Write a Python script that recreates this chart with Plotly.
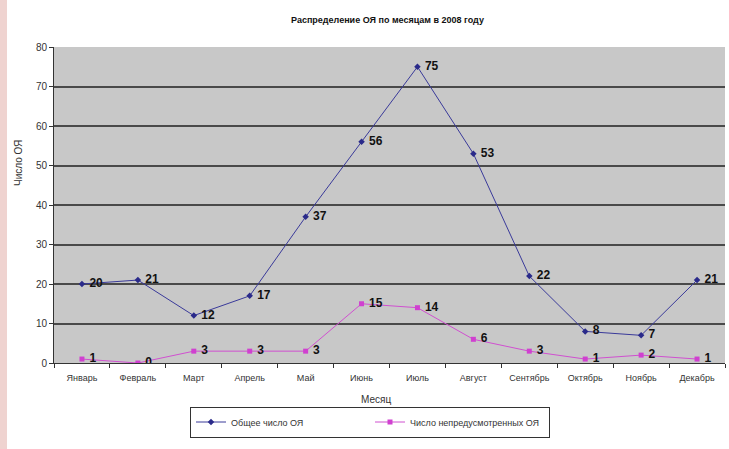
import plotly.graph_objects as go

months = ["Январь", "Февраль", "Март", "Апрель", "Май", "Июнь",
          "Июль", "Август", "Сентябрь", "Октябрь", "Ноябрь", "Декабрь"]
total_oya = [20, 21, 12, 17, 37, 56, 75, 53, 22, 8, 7, 21]
unforeseen_oya = [1, 0, 3, 3, 3, 15, 14, 6, 3, 1, 2, 1]
y_ticks = [0, 10, 20, 30, 40, 50, 60, 70, 80]

W, H = 729, 449
L, R, T, B = 54, 4, 47, 86

font_family = "Liberation Sans, Arial, sans-serif"
label_font = dict(family=font_family, size=12, color="#111111")

fig = go.Figure()
fig.add_trace(go.Scatter(
    x=months, y=total_oya, name="Общее число ОЯ",
    mode="lines+markers+text",
    line=dict(color="#3a3a9a", width=1),
    marker=dict(symbol="diamond", size=5, color="#2a2a8a"),
    text=[f" <b>{v}</b>" for v in total_oya], textposition="middle right",
    textfont=label_font,
))
fig.add_trace(go.Scatter(
    x=months, y=unforeseen_oya, name="Число непредусмотренных ОЯ",
    mode="lines+markers+text",
    line=dict(color="#d050d0", width=1),
    marker=dict(symbol="square", size=5, color="#d040d0"),
    text=[f" <b>{v}</b>" for v in unforeseen_oya], textposition="middle right",
    textfont=label_font,
))

def px_x(px):
    return (px - L) / (W - L - R)

def px_y(py):
    return (H - B - py) / (H - T - B)

# pink strip along the left edge of the page
fig.add_shape(type="rect", xref="paper", yref="paper",
              x0=px_x(0), x1=px_x(7), y0=px_y(H), y1=px_y(0),
              fillcolor="#efd3d0", line=dict(width=0), layer="below")

fig.add_annotation(text="<b>Распределение ОЯ по месяцам в 2008 году</b>",
                   xref="paper", yref="paper", x=px_x(387), y=px_y(20),
                   xanchor="center", yanchor="middle",
                   showarrow=False, font=dict(family=font_family, size=9, color="#111111"))
fig.add_annotation(text="Месяц", xref="paper", yref="paper",
                   x=px_x(376), y=px_y(399), xanchor="center", yanchor="middle",
                   showarrow=False,
                   font=dict(family=font_family, size=10, color="#333333"))
fig.add_annotation(text="Число ОЯ", xref="paper", yref="paper",
                   x=px_x(18), y=px_y(163), xanchor="center", yanchor="middle",
                   showarrow=False, textangle=-90,
                   font=dict(family=font_family, size=10, color="#333333"))

fig.update_layout(
    width=W, height=H,
    margin=dict(l=L, r=R, t=T, b=B),
    paper_bgcolor="white",
    plot_bgcolor="#c8c8c8",
    showlegend=True,
    legend=dict(orientation="h", x=px_x(370), y=px_y(422),
                xanchor="center", yanchor="middle",
                bordercolor="#333333", borderwidth=1, bgcolor="white",
                font=dict(family=font_family, size=9, color="#333333"),
                entrywidth=134, tracegroupgap=0),
    xaxis=dict(type="category", range=[-0.5, 11.5],
               showgrid=False, showline=True, linecolor="#333333", linewidth=1,
               ticks="outside", ticklen=4, tickcolor="#333333", tickson="boundaries",
               ticklabelstandoff=6,
               tickfont=dict(family=font_family, size=9, color="#333333")),
    yaxis=dict(range=[0, 80], tickvals=y_ticks,
               showgrid=True, gridcolor="#4a4a4a", gridwidth=1.5,
               showline=True, linecolor="#333333", linewidth=1,
               ticks="outside", ticklen=4, tickcolor="#333333",
               zeroline=False,
               tickfont=dict(family=font_family, size=10, color="#333333")),
)

fig.write_html("out.html")
